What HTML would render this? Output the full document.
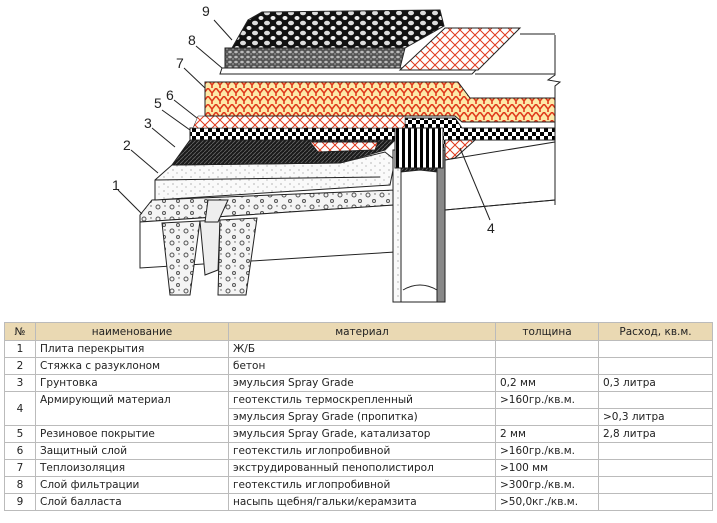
<!DOCTYPE html>
<html><head><meta charset="utf-8"><style>
body{margin:0;width:717px;height:523px;background:#fff;overflow:hidden;font-family:"DejaVu Sans","Liberation Sans",sans-serif;}
svg{position:absolute;left:0;top:0}
table{position:absolute;left:4px;top:322px;width:708px;table-layout:fixed;border-collapse:collapse;font-size:10.5px;color:#222;}
td{border:1px solid #bbb;padding:0 0 0 4px;height:16px;line-height:16px;white-space:nowrap;overflow:hidden}
tr.h td{background:#ead9b3;text-align:center;height:17px;padding:0}
td.n{text-align:center;padding:0}
</style></head><body>
<svg width="717" height="320" viewBox="0 0 717 320">
<defs>
<pattern id="chk" width="8" height="8" patternUnits="userSpaceOnUse"><rect width="8" height="8" fill="#fff"/><rect width="4" height="4" fill="#000"/><rect x="4" y="4" width="4" height="4" fill="#000"/></pattern>
<pattern id="mesh" width="10" height="10" patternUnits="userSpaceOnUse"><rect width="10" height="10" fill="#fff"/><path d="M0 0L10 10M10 0L0 10" stroke="#e03a1c" stroke-width="1"/></pattern>
<pattern id="ins" width="8" height="8" patternUnits="userSpaceOnUse"><rect width="8" height="8" fill="#fde9a8"/><path d="M0 0L4 5L8 0M4 5L4 8" stroke="#e03a1c" stroke-width="1.6" fill="none"/></pattern>
<pattern id="hat" width="4" height="4" patternUnits="userSpaceOnUse"><rect width="4" height="4" fill="#1a1a1a"/><path d="M0 4L4 0" stroke="#666" stroke-width=".8"/></pattern>
<pattern id="dot" width="9" height="7" patternUnits="userSpaceOnUse"><rect width="9" height="7" fill="#fafafa"/><circle cx="2" cy="2" r=".6" fill="#888"/><circle cx="6" cy="5" r=".6" fill="#999"/></pattern>
<pattern id="conc" width="14" height="12" patternUnits="userSpaceOnUse"><rect width="14" height="12" fill="#f4f4f4"/><circle cx="4" cy="3" r="2" fill="none" stroke="#555"/><circle cx="10" cy="9" r="1.5" fill="none" stroke="#555"/><circle cx="11" cy="2" r=".7" fill="#555"/></pattern>
<pattern id="peb" width="12" height="10" patternUnits="userSpaceOnUse"><rect width="12" height="10" fill="#111"/><ellipse cx="3" cy="3" rx="3" ry="2.3" fill="#ddd"/><ellipse cx="9" cy="8" rx="2.5" ry="2" fill="#eee"/></pattern>
<pattern id="grv" width="6" height="5" patternUnits="userSpaceOnUse"><rect width="6" height="5" fill="#555"/><ellipse cx="2" cy="2" rx="1.8" ry="1.3" fill="#bbb"/><circle cx="5" cy="4" r=".9" fill="#999"/></pattern>
<pattern id="stripe" width="6" height="6" patternUnits="userSpaceOnUse"><rect width="6" height="6" fill="#fff"/><rect width="3" height="6" fill="#000"/></pattern>
</defs>
<g stroke="#222" stroke-width="1">
<polygon points="140,215 152,200 395,190 395,205 140,222" fill="url(#conc)"/>
<polygon points="140,222 395,205 395,252 140,268" fill="#fff"/>
<polygon points="162,223 200,221 190,295 170,295" fill="url(#conc)"/>
<polygon points="200,221 220,220 218,270 205,275" fill="#eee"/>
<polygon points="220,220 257,218 246,295 218,295" fill="url(#conc)"/>
<polygon points="208,200 228,200 218,222 205,222" fill="#eee"/>
<polygon points="445,160 555,142 555,200 445,210" fill="#fff"/>
<line x1="445" y1="210" x2="555" y2="200"/>
<polygon points="155,180 172,165 340,163 385,152 395,160 390,185 155,200" fill="url(#dot)"/>
<line x1="155" y1="180" x2="380" y2="177"/>
<rect x="393" y="150" width="52" height="152" fill="#fff"/>
<rect x="393" y="150" width="8" height="152" fill="url(#dot)"/>
<rect x="437" y="150" width="8" height="152" fill="#888"/>
<polygon points="401,150 437,150 437,172 420,170 401,172" fill="url(#hat)"/>
<polygon points="190,140 395,140 385,150 340,163 172,165" fill="url(#hat)"/>
<polygon points="310,142 378,142 375,150 318,152" fill="url(#mesh)"/>
<polygon points="445,140 475,140 455,158 445,160" fill="url(#mesh)"/>
<polygon points="190,128 405,128 405,118 455,118 462,128 555,128 555,140 445,140 445,148 395,148 395,140 190,140" fill="url(#chk)"/>
<rect x="395" y="128" width="48" height="40" fill="url(#stripe)"/>
<polygon points="198,116 405,116 405,128 193,128" fill="url(#mesh)" stroke-width=".5"/>
<polygon points="205,82 458,82 470,98 555,98 555,122 462,122 455,116 205,116" fill="url(#ins)"/>
<polygon points="222,68 478,68 472,74 220,74" fill="#fff"/>
<polygon points="400,70 445,28 520,28 478,70" fill="url(#mesh)"/>
<polygon points="225,48 405,48 400,68 225,68" fill="url(#grv)"/>
<polygon points="232,48 248,20 262,12 440,10 444,26 405,48" fill="url(#peb)"/>
<path d="M555 35 L555 75 L548 80 L560 82 L555 86 L555 205" fill="none"/>
<path d="M520 34 L555 34 M475 74 L555 74" fill="none"/>
<path d="M403 290 Q420 280 437 290" fill="none"/>
</g>
<g stroke="#222" stroke-width="1">
<line x1="214" y1="20" x2="232" y2="40"/><line x1="196" y1="46" x2="222" y2="68"/>
<line x1="184" y1="68" x2="205" y2="88"/><line x1="174" y1="100" x2="197" y2="118"/>
<line x1="162" y1="110" x2="190" y2="130"/><line x1="152" y1="128" x2="175" y2="147"/>
<line x1="131" y1="150" x2="158" y2="173"/><line x1="118" y1="190" x2="142" y2="214"/>
<line x1="460" y1="148" x2="490" y2="220"/>
</g>
<g font-family="Liberation Sans,sans-serif" font-size="14" fill="#222">
<text x="202" y="16">9</text><text x="188" y="45">8</text><text x="176" y="68">7</text><text x="166" y="100">6</text>
<text x="154" y="108">5</text><text x="144" y="128">3</text><text x="123" y="150">2</text><text x="112" y="190">1</text><text x="487" y="233">4</text>
</g>
</svg>
<table>
<colgroup><col style="width:31px"><col style="width:193px"><col style="width:267px"><col style="width:103px"><col style="width:114px"></colgroup>
<tr class="h"><td>№</td><td>наименование</td><td>материал</td><td>толщина</td><td>Расход, кв.м.</td></tr>
<tr><td class="n">1</td><td>Плита перекрытия</td><td>Ж/Б</td><td></td><td></td></tr>
<tr><td class="n">2</td><td>Стяжка с разуклоном</td><td>бетон</td><td></td><td></td></tr>
<tr><td class="n">3</td><td>Грунтовка</td><td>эмульсия Spray Grade</td><td>0,2 мм</td><td>0,3 литра</td></tr>
<tr><td class="n" rowspan="2">4</td><td rowspan="2" style="vertical-align:top">Армирующий материал</td><td>геотекстиль термоскрепленный</td><td>&gt;160гр./кв.м.</td><td></td></tr>
<tr><td>эмульсия Spray Grade (пропитка)</td><td></td><td>&gt;0,3 литра</td></tr>
<tr><td class="n">5</td><td>Резиновое покрытие</td><td>эмульсия Spray Grade, катализатор</td><td>2 мм</td><td>2,8 литра</td></tr>
<tr><td class="n">6</td><td>Защитный слой</td><td>геотекстиль иглопробивной</td><td>&gt;160гр./кв.м.</td><td></td></tr>
<tr><td class="n">7</td><td>Теплоизоляция</td><td>экструдированный пенополистирол</td><td>&gt;100 мм</td><td></td></tr>
<tr><td class="n">8</td><td>Слой фильтрации</td><td>геотекстиль иглопробивной</td><td>&gt;300гр./кв.м.</td><td></td></tr>
<tr><td class="n">9</td><td>Слой балласта</td><td>насыпь щебня/гальки/керамзита</td><td>&gt;50,0кг./кв.м.</td><td></td></tr>
</table>
</body></html>
